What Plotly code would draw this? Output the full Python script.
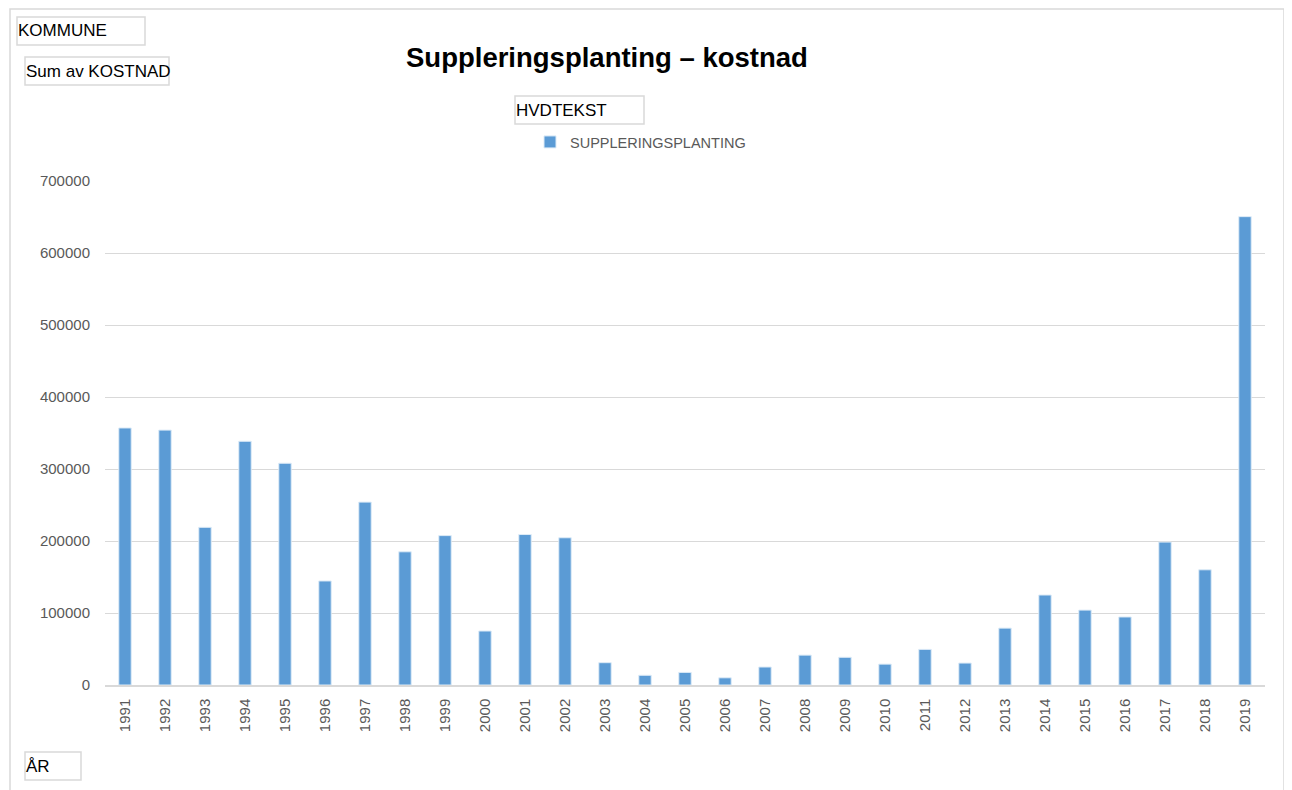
import plotly.graph_objects as go

years = [str(y) for y in range(1991, 2020)]
kostnad = [357000, 354000, 219000, 338500, 308000, 144500, 254000, 185000, 207500, 75000,
           209000, 204500, 31000, 13500, 17500, 10000, 25000, 41500, 38500, 29000,
           49500, 30500, 79000, 125000, 104000, 94500, 198500, 160000, 650500]
y_ticks = [0, 100000, 200000, 300000, 400000, 500000, 600000, 700000]
series_name = "SUPPLERINGSPLANTING"
title_text = "Suppleringsplanting – kostnad"

OFF = 8  # page body margin
W, H = 1292 - OFF, 790 - OFF
L, R, T, B = 105 - OFF, 1265 - OFF, 181 - OFF, 685 - OFF

def px(x):
    return (x - OFF - L) / (R - L)

def py(y):
    return (B - (y - OFF)) / (B - T)

FONT = "Liberation Sans"
fig = go.Figure()
fig.add_trace(go.Bar(
    x=years, y=kostnad, name=series_name,
    marker=dict(color="#5B9BD5", line=dict(color="#DDEBF7", width=1)),
    showlegend=True,
))

shapes = []
annotations = []
shapes.append(dict(type="rect", xref="paper", yref="paper",
                   x0=px(10), x1=px(1284), y0=py(800), y1=py(9),
                   line=dict(color="#D9D9D9", width=1.5), fillcolor="rgba(0,0,0,0)", layer="below"))

fields = [("KOMMUNE", 17, 17, 145, 45), ("Sum av KOSTNAD", 25, 57, 169, 85),
          ("HVDTEKST", 515, 96, 644, 124), ("ÅR", 25, 752, 81, 780)]
for text, x0, y0, x1, y1 in fields:
    shapes.append(dict(type="rect", xref="paper", yref="paper",
                       x0=px(x0), x1=px(x1), y0=py(y1), y1=py(y0),
                       line=dict(color="#D9D9D9", width=1.5), fillcolor="white"))
    annotations.append(dict(text=text, xref="paper", yref="paper", x=px(x0 - 1), y=py((y0 + y1) / 2),
                            xanchor="left", yanchor="middle", showarrow=False,
                            font=dict(family=FONT, size=17, color="black")))

annotations.append(dict(text="<b>" + title_text + "</b>", xref="paper", yref="paper",
                        x=px(607), y=py(57), xanchor="center", yanchor="middle", showarrow=False,
                        font=dict(family=FONT, size=27.5, color="black")))

fig.update_layout(
    width=W, height=H,
    margin=dict(l=L, r=W - R, t=T, b=H - B),
    paper_bgcolor="white", plot_bgcolor="white",
    bargap=0.69,
    shapes=shapes, annotations=annotations,
    showlegend=True,
    legend=dict(orientation="h", x=px(530), y=py(142), xanchor="left", yanchor="middle",
                font=dict(family=FONT, size=14.5, color="#595959"), bgcolor="rgba(0,0,0,0)"),
    xaxis=dict(type="category", tickangle=-90, showgrid=False, showline=True,
               linecolor="#D9D9D9", linewidth=1.5, ticks="", ticklabelstandoff=6,
               tickfont=dict(family=FONT, size=15, color="#595959")),
    yaxis=dict(range=[0, 700000], tickvals=y_ticks, ticktext=[str(v) for v in y_ticks],
               showgrid=True, gridcolor="#D9D9D9", gridwidth=1, zeroline=False, showline=False,
               ticks="", ticklen=0, ticklabelstandoff=14,
               tickfont=dict(family=FONT, size=15, color="#595959")),
)

fig.write_html("out.html")
